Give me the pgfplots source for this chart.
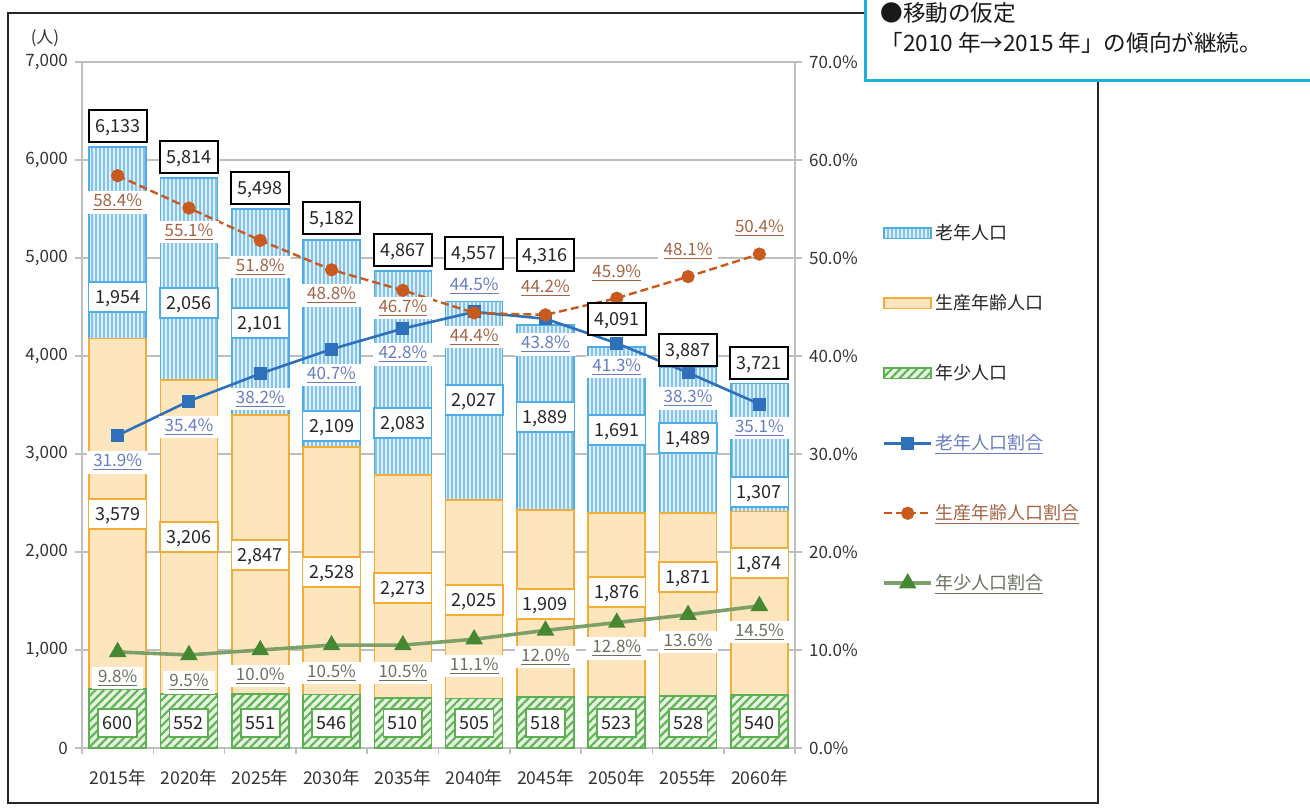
\documentclass[border=0pt]{standalone}
\usepackage{fontspec}
\setmainfont{Noto Sans CJK JP}
\usepackage{pgfplots}
\usepackage{pgfplotstable}
\pgfplotsset{compat=1.18}
\usetikzlibrary{patterns.meta}
\pgfkeys{/pgf/number format/assume math mode=true}

\definecolor{oldfill}{RGB}{222,239,250}
\definecolor{oldline}{RGB}{130,196,238}
\definecolor{oldborder}{RGB}{80,172,228}
\definecolor{workfill}{RGB}{253,229,190}
\definecolor{workborder}{RGB}{243,172,55}
\definecolor{youngfill}{RGB}{232,245,226}
\definecolor{youngline}{RGB}{100,180,90}
\definecolor{youngborder}{RGB}{92,176,82}
\definecolor{oldpct}{RGB}{46,112,186}
\definecolor{workpct}{RGB}{200,90,30}
\definecolor{youngpctline}{RGB}{125,160,105}
\definecolor{youngmark}{RGB}{70,135,50}
\definecolor{oldtxt}{RGB}{105,125,195}
\definecolor{worktxt}{RGB}{165,100,70}
\definecolor{youngtxt}{RGB}{105,115,95}
\definecolor{boxblue}{RGB}{30,175,225}
\definecolor{gridc}{RGB}{190,190,190}

\pgfplotstableread{
x young work old
0 600 3579 1954
1 552 3206 2056
2 551 2847 2101
3 546 2528 2109
4 510 2273 2083
5 505 2025 2027
6 518 1909 1889
7 523 1876 1691
8 528 1871 1489
9 540 1874 1307
}\bars

\pgfplotstableread{
x tot ty old oy work wy young yy opct opy wpct wpy ypct ypy
0 6133 63.47 1954 46.02 3579 23.88 600 2.55 31.9 29.18 58.4 55.71 9.8 7.14
1 5814 60.31 2056 45.41 3206 21.53 552 2.55 35.4 32.76 55.1 52.65 9.5 6.73
2 5498 57.14 2101 43.37 2847 19.69 551 2.55 38.2 35.61 51.8 49.08 10.0 7.35
3 5182 54.08 2109 32.86 2528 17.96 546 2.55 40.7 38.06 48.8 46.22 10.5 7.65
4 4867 50.82 2083 33.16 2273 16.33 510 2.55 42.8 40.20 46.7 44.90 10.5 7.65
5 4557 50.51 2027 35.51 2025 15.10 505 2.55 44.5 47.14 44.4 41.94 11.1 8.37
6 4316 50.31 1889 33.78 1909 14.69 518 2.55 43.8 41.22 44.2 46.94 12.0 9.29
7 4091 43.78 1691 32.45 1876 15.92 523 2.55 41.3 38.88 45.9 48.47 12.8 10.20
8 3887 40.61 1489 31.63 1871 17.45 528 2.55 38.3 35.71 48.1 50.71 13.6 10.82
9 3721 39.29 1307 26.12 1874 18.88 540 2.55 35.1 32.65 50.4 53.06 14.5 11.84
}\labels

\pgfplotsset{
  barleg/.style={legend image code/.code={\draw[##1] (0pt,-2.6pt) rectangle (23.5pt,2.6pt);}},
  lineleg/.style={legend image code/.code={\draw[mark repeat=2,mark phase=2,##1] plot coordinates {(0pt,0pt) (11.75pt,0pt) (23.5pt,0pt)};}},
  vlab/.style={draw=none, mark=none, forget plot, point meta=explicit,
    nodes near coords={\pgfmathprintnumber[fixed,precision=0,1000 sep={,}]{\pgfplotspointmeta}},
    nodes near coords style={anchor=center, fill=white, text=black!85, font=\fontsize{9}{11}\selectfont,
      inner xsep=3.2pt, inner ysep=0pt, text height=6.8pt, text depth=0pt, minimum height=15pt, #1}},
  plab/.style={draw=none, mark=none, forget plot, point meta=explicit,
    nodes near coords={\underline{\pgfmathprintnumber[fixed,fixed zerofill,precision=1]{\pgfplotspointmeta}\%}},
    nodes near coords style={anchor=center, fill=white, font=\fontsize{8.5}{10}\selectfont,
      inner xsep=3pt, inner ysep=1.5pt, #1}},
}

\begin{document}
\begin{tikzpicture}
\useasboundingbox (-41pt,-31.5pt) rectangle (614pt,374pt);
\draw[black!85, line width=1pt] (-37pt,-27.5pt) rectangle (508pt,367.5pt);

\begin{axis}[
  at={(0pt,0pt)}, anchor=south west,
  scale only axis, width=356.5pt, height=343pt,
  ybar stacked, bar width=0.8,
  xmin=-0.5, xmax=9.5, ymin=0, ymax=7000,
  xtick={0,...,9},
  xticklabels={2015年,2020年,2025年,2030年,2035年,2040年,2045年,2050年,2055年,2060年},
  minor xtick={-0.5,0.5,...,9.5},
  ytick={0,1000,...,7000},
  scaled y ticks=false,
  yticklabel={\pgfmathprintnumber[fixed,precision=0,1000 sep={,}]{\tick}},
  axis x line*=bottom, axis y line*=left,
  axis line style={gridc, line width=0.8pt, -},
  ymajorgrids, major grid style={gridc, line width=0.8pt},
  tick align=outside, major tick length=3.5pt, minor tick length=3pt,
  major x tick style={draw=none}, minor x tick style={gridc, line width=0.8pt},
  ytick style={gridc, line width=0.8pt},
  xticklabel style={font=\fontsize{8.8}{10}\selectfont, text=black!80, yshift=-4pt},
  yticklabel style={font=\fontsize{8.5}{10}\selectfont, text=black!80},
]
\addplot[fill=youngfill, draw=youngborder, line width=0.8pt,
  postaction={pattern={Lines[angle=45,distance=3pt,line width=1.1pt]}, pattern color=youngline}]
  table[x=x,y=young]{\bars};
\addplot[fill=workfill, draw=workborder, line width=0.8pt] table[x=x,y=work]{\bars};
\addplot[fill=oldfill, draw=oldborder, line width=0.8pt,
  postaction={pattern={Lines[angle=90,distance=2pt,line width=0.55pt]}, pattern color=oldline}]
  table[x=x,y=old]{\bars};
\end{axis}

\begin{axis}[
  at={(0pt,0pt)}, anchor=south west,
  scale only axis, width=356.5pt, height=343pt,
  xmin=-0.5, xmax=9.5, ymin=0, ymax=70,
  axis x line=none, axis y line*=right,
  axis line style={gridc, line width=0.8pt, -},
  ytick={0,10,...,70},
  yticklabel={\pgfmathprintnumber[fixed,fixed zerofill,precision=1]{\tick}\%},
  tick align=outside, major tick length=3.5pt,
  ytick style={gridc, line width=0.8pt},
  yticklabel style={font=\fontsize{8.5}{10}\selectfont, text=black!80},
  clip=false,
  legend cell align=left,
  legend style={at={(1.122,0.767)}, anchor=north west, draw=none, fill=none,
    inner sep=0pt, row sep=24pt, font=\fontsize{9}{11}\selectfont, text=black!85,
    nodes={inner sep=1pt, text height=7.5pt, text depth=1.5pt}},
]
\addlegendimage{barleg, draw=oldborder, fill=oldfill, line width=0.8pt,
  postaction={pattern={Lines[angle=90,distance=2pt,line width=0.55pt]}, pattern color=oldline}}
\addlegendentry{老年人口}
\addlegendimage{barleg, draw=workborder, fill=workfill, line width=0.8pt}
\addlegendentry{生産年齢人口}
\addlegendimage{barleg, draw=youngborder, fill=youngfill, line width=0.8pt,
  postaction={pattern={Lines[angle=45,distance=3pt,line width=1.1pt]}, pattern color=youngline}}
\addlegendentry{年少人口}

\addplot[lineleg, color=oldpct, line width=1.3pt, mark=square*, mark size=2.6pt]
  table[x=x,y=opct]{\labels};
\addlegendentry{\textcolor{oldtxt}{\underline{老年人口割合}}}
\addplot[lineleg, color=workpct, line width=1.2pt, dash pattern=on 4pt off 2pt, mark=*, mark size=2.7pt, mark options={solid}]
  table[x=x,y=wpct]{\labels};
\addlegendentry{\textcolor{worktxt}{\underline{生産年齢人口割合}}}
\addplot[lineleg, color=youngpctline, line width=1.8pt, mark=triangle*, mark size=3.3pt, mark options={solid, fill=youngmark, draw=youngmark}]
  table[x=x,y=ypct]{\labels};
\addlegendentry{\textcolor{youngtxt}{\underline{年少人口割合}}}

\addplot[vlab={draw=black, line width=1pt, minimum height=16pt}] table[x=x,y=ty,meta=tot]{\labels};
\addplot[vlab={draw=oldborder, line width=0.7pt}] table[x=x,y=oy,meta=old]{\labels};
\addplot[vlab={draw=workborder, line width=0.7pt}] table[x=x,y=wy,meta=work]{\labels};
\addplot[vlab={draw=youngborder, line width=0.9pt, inner xsep=2.2pt, minimum height=14pt}] table[x=x,y=yy,meta=young]{\labels};
\addplot[plab={text=oldtxt}] table[x=x,y=opy,meta=opct]{\labels};
\addplot[plab={text=worktxt}] table[x=x,y=wpy,meta=wpct]{\labels};
\addplot[plab={text=youngtxt}] table[x=x,y=ypy,meta=ypct]{\labels};
\end{axis}

\node[font=\fontsize{8.5}{10}\selectfont, text=black!80] at (-18.5pt,355pt) {(人)};
\draw[boxblue, line width=1.5pt, fill=white] (391.5pt,334pt) rectangle (616pt,376pt);
\node[anchor=west, font=\fontsize{11.3}{13}\selectfont, text=black!90, inner sep=0pt] at (399pt,367.5pt) {●移動の仮定};
\node[anchor=west, font=\fontsize{11.3}{13}\selectfont, text=black!90, inner sep=0pt] at (399pt,352.5pt) {「2010 年→2015 年」の傾向が継続。};
\end{tikzpicture}
\end{document}
